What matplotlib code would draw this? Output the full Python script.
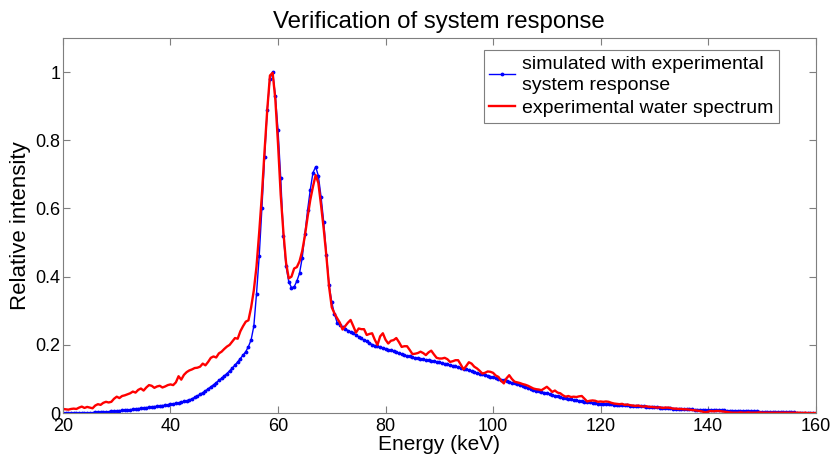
import numpy as np
import matplotlib
matplotlib.use("Agg")
import matplotlib.pyplot as plt

plt.rcParams["font.family"] = ["Liberation Sans", "DejaVu Sans"]

# energy grid (keV), 0.5 keV bins
energy = np.arange(20.0, 160.25, 0.5)

# simulated with experimental system response
sim = [
    0.000, 0.000, 0.000, 0.000, 0.000, 0.000, 0.000, 0.001, 0.001, 0.001,
    0.001, 0.001, 0.002, 0.002, 0.002, 0.003, 0.003, 0.004, 0.005, 0.005,
    0.006, 0.007, 0.008, 0.008, 0.009, 0.010, 0.011, 0.012, 0.013, 0.014,
    0.015, 0.016, 0.017, 0.018, 0.019, 0.020, 0.021, 0.022, 0.023, 0.024,
    0.026, 0.027, 0.029, 0.030, 0.032, 0.034, 0.036, 0.038, 0.042, 0.046,
    0.050, 0.055, 0.060, 0.065, 0.071, 0.077, 0.083, 0.089, 0.096, 0.102,
    0.109, 0.116, 0.124, 0.132, 0.141, 0.150, 0.160, 0.170, 0.180, 0.195,
    0.215, 0.255, 0.350, 0.460, 0.600, 0.750, 0.890, 0.980, 1.000, 0.930,
    0.830, 0.690, 0.520, 0.430, 0.385, 0.368, 0.370, 0.387, 0.410, 0.455,
    0.525, 0.595, 0.655, 0.705, 0.722, 0.696, 0.635, 0.560, 0.465, 0.375,
    0.325, 0.290, 0.265, 0.258, 0.252, 0.247, 0.242, 0.238, 0.234, 0.229,
    0.224, 0.219, 0.214, 0.210, 0.205, 0.201, 0.198, 0.196, 0.193, 0.191,
    0.189, 0.186, 0.184, 0.181, 0.178, 0.175, 0.172, 0.170, 0.168, 0.166,
    0.164, 0.162, 0.161, 0.159, 0.158, 0.156, 0.155, 0.153, 0.152, 0.150,
    0.149, 0.147, 0.145, 0.143, 0.141, 0.139, 0.137, 0.135, 0.133, 0.130,
    0.128, 0.125, 0.123, 0.120, 0.118, 0.116, 0.114, 0.112, 0.110, 0.107,
    0.105, 0.103, 0.101, 0.098, 0.096, 0.094, 0.092, 0.089, 0.087, 0.084,
    0.082, 0.079, 0.076, 0.074, 0.071, 0.068, 0.066, 0.064, 0.062, 0.060,
    0.058, 0.055, 0.053, 0.051, 0.049, 0.047, 0.045, 0.043, 0.042, 0.040,
    0.039, 0.037, 0.036, 0.034, 0.033, 0.032, 0.031, 0.030, 0.029, 0.028,
    0.028, 0.027, 0.027, 0.026, 0.026, 0.025, 0.025, 0.024, 0.024, 0.023,
    0.023, 0.022, 0.022, 0.021, 0.021, 0.020, 0.020, 0.019, 0.019, 0.018,
    0.018, 0.017, 0.016, 0.016, 0.015, 0.014, 0.014, 0.013, 0.013, 0.012,
    0.012, 0.012, 0.012, 0.011, 0.011, 0.010, 0.010, 0.010, 0.010, 0.009,
    0.009, 0.009, 0.009, 0.008, 0.008, 0.008, 0.008, 0.007, 0.007, 0.007,
    0.007, 0.006, 0.006, 0.006, 0.006, 0.005, 0.005, 0.005, 0.005, 0.004,
    0.004, 0.004, 0.004, 0.003, 0.003, 0.003, 0.003, 0.003, 0.003, 0.002,
    0.002, 0.002, 0.002, 0.001, 0.001, 0.001, 0.001, 0.001, 0.000, 0.000,
    0.000,
]

# experimental water spectrum
water = [
    0.012, 0.011, 0.010, 0.012, 0.013, 0.012, 0.016, 0.019, 0.015, 0.018,
    0.016, 0.014, 0.022, 0.026, 0.024, 0.030, 0.033, 0.031, 0.033, 0.042,
    0.048, 0.044, 0.050, 0.052, 0.055, 0.058, 0.063, 0.060, 0.068, 0.072,
    0.066, 0.075, 0.082, 0.080, 0.074, 0.078, 0.080, 0.075, 0.078, 0.082,
    0.084, 0.082, 0.090, 0.108, 0.098, 0.112, 0.120, 0.125, 0.128, 0.132,
    0.133, 0.136, 0.145, 0.140, 0.150, 0.162, 0.166, 0.163, 0.175, 0.180,
    0.188, 0.195, 0.200, 0.210, 0.220, 0.218, 0.240, 0.255, 0.268, 0.272,
    0.310, 0.360, 0.430, 0.530, 0.640, 0.770, 0.890, 0.990, 0.998, 0.920,
    0.790, 0.640, 0.530, 0.440, 0.395, 0.400, 0.424, 0.428, 0.445, 0.475,
    0.520, 0.575, 0.625, 0.664, 0.698, 0.675, 0.610, 0.540, 0.460, 0.370,
    0.310, 0.292, 0.278, 0.265, 0.245, 0.255, 0.265, 0.273, 0.255, 0.236,
    0.248, 0.246, 0.246, 0.229, 0.232, 0.234, 0.215, 0.200, 0.225, 0.234,
    0.215, 0.204, 0.212, 0.214, 0.220, 0.208, 0.194, 0.196, 0.196, 0.185,
    0.173, 0.174, 0.176, 0.180, 0.176, 0.170, 0.178, 0.183, 0.172, 0.162,
    0.160, 0.160, 0.162, 0.158, 0.150, 0.152, 0.155, 0.155, 0.142, 0.128,
    0.138, 0.149, 0.145, 0.136, 0.131, 0.124, 0.116, 0.118, 0.122, 0.121,
    0.118, 0.110, 0.106, 0.095, 0.087, 0.102, 0.111, 0.100, 0.092, 0.090,
    0.088, 0.085, 0.083, 0.080, 0.076, 0.072, 0.070, 0.069, 0.067, 0.072,
    0.077, 0.070, 0.062, 0.066, 0.060, 0.058, 0.052, 0.048, 0.050, 0.047,
    0.048, 0.047, 0.049, 0.050, 0.042, 0.034, 0.036, 0.037, 0.036, 0.033,
    0.034, 0.033, 0.034, 0.033, 0.030, 0.028, 0.027, 0.026, 0.027, 0.024,
    0.025, 0.023, 0.022, 0.021, 0.022, 0.020, 0.019, 0.020, 0.018, 0.018,
    0.017, 0.016, 0.017, 0.015, 0.016, 0.016, 0.015, 0.013, 0.013, 0.012,
    0.012, 0.011, 0.011, 0.010, 0.009, 0.008, 0.007, 0.006, 0.004, 0.002,
    0.004, 0.006, 0.005, 0.006, 0.006, 0.005, 0.004, 0.003, 0.002, 0.001,
    0.001, 0.001, 0.002, 0.001, 0.001, 0.002, 0.001, 0.001, 0.001, 0.002,
    0.001, 0.001, 0.001, 0.001, 0.001, 0.001, 0.001, 0.001, 0.001, 0.001,
    0.001, 0.001, 0.001, 0.001, 0.001, 0.000, 0.001, 0.000, 0.000, 0.000,
    0.000,
]

fig = plt.figure(figsize=(8.34, 4.61), dpi=100)
ax = fig.add_axes([0.0755, 0.104, 0.9025, 0.8136])

ax.plot(energy, sim, "-", color="#0000ff", lw=1.0, marker=".", ms=3.5,
        label="simulated with experimental\nsystem response")
ax.plot(energy, water, "-", color="#ff0000", lw=1.7,
        label="experimental water spectrum")

ax.set_xlim(20, 160)
ax.set_ylim(0, 1.1)
ax.set_xticks(np.arange(20, 161, 20))
ax.set_yticks([0, 0.2, 0.4, 0.6, 0.8, 1])
ax.set_yticklabels(["0", "0.2", "0.4", "0.6", "0.8", "1"])
ax.tick_params(direction="in", top=True, right=True, length=5,
               color="#7f7f7f", labelsize=13)
ax.tick_params(axis="y", pad=2)
for s in ax.spines.values():
    s.set_color("#7f7f7f")

ax.set_xlabel("Energy (keV)", fontsize=15, labelpad=0)
ax.set_ylabel("Relative intensity", fontsize=16, labelpad=3)
ax.set_title("Verification of system response", fontsize=17.3, pad=7)

leg = ax.legend(loc="upper right", fontsize=14, handlelength=1.3,
                handletextpad=0.35, borderpad=0.3, labelspacing=0.3,
                fancybox=False, framealpha=1, borderaxespad=0,
                bbox_to_anchor=(0.951, 0.968))
leg.get_texts()[0].set_linespacing(1.3)
leg.get_frame().set_edgecolor("#7f7f7f")
leg.get_frame().set_linewidth(0.8)

fig.savefig("out.png", dpi=100)
